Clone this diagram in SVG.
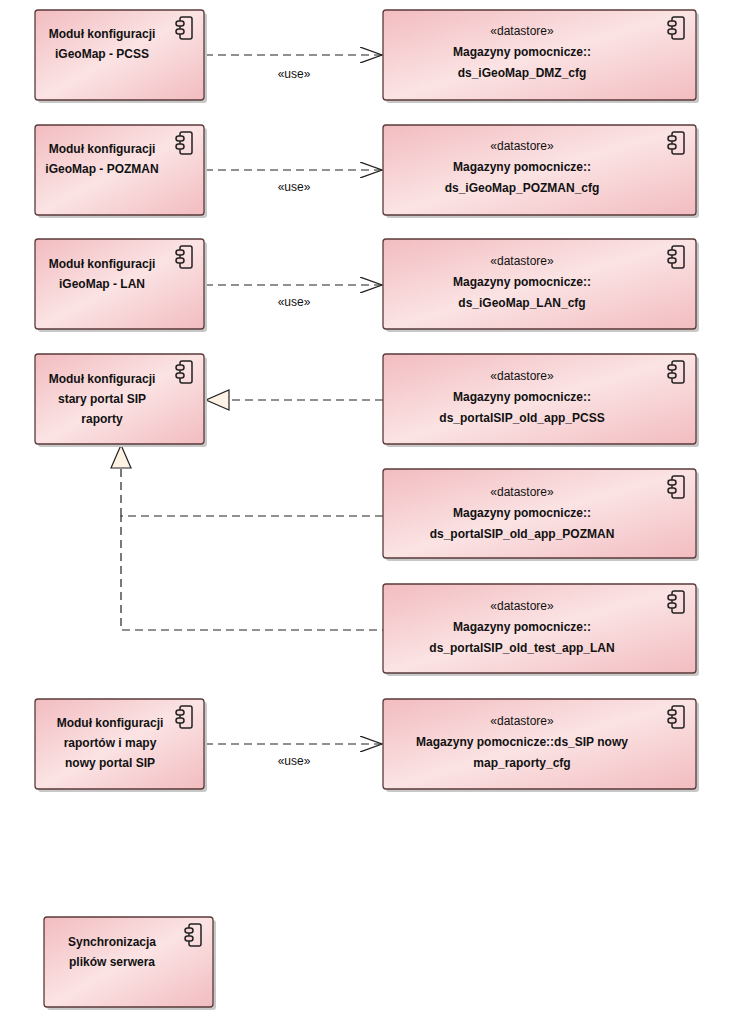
<svg xmlns="http://www.w3.org/2000/svg" width="738" height="1017" viewBox="0 0 738 1017">
<defs>
<linearGradient id="g" x1="0" y1="0" x2="1" y2="1"><stop offset="0" stop-color="#f2bcc0"/><stop offset="0.5" stop-color="#fbe3e4"/><stop offset="1" stop-color="#f2bcc0"/></linearGradient>
<marker id="open" markerWidth="24" markerHeight="16" refX="22" refY="8" orient="auto" markerUnits="userSpaceOnUse"><path d="M0,0 L22,8 L0,16" fill="none" stroke="#222" stroke-width="1.3"/></marker>
<marker id="tri" markerWidth="26" markerHeight="22" refX="24" refY="11" orient="auto" markerUnits="userSpaceOnUse"><path d="M1,1 L24,11 L1,21 Z" fill="#fdf2e4" stroke="#222" stroke-width="1.2"/></marker>
<g id="ic"><rect x="4" y="0" width="12" height="22" rx="2" fill="none" stroke="#222" stroke-width="1.5"/><rect x="0" y="4" width="8" height="5" rx="2.5" fill="#f8d5d7" stroke="#222" stroke-width="1.5"/><rect x="0" y="12" width="8" height="5" rx="2.5" fill="#f8d5d7" stroke="#222" stroke-width="1.5"/></g>
</defs>
<style>
.n{fill:url(#g);stroke:#5a3a3a;stroke-width:1.3}
.s{fill:#c8c8c8}
text{font-family:"Liberation Sans",Arial,sans-serif;font-size:12px;fill:#111;text-anchor:middle}
.b{font-weight:bold}
.c{fill:none;stroke:#222;stroke-width:1.2;stroke-dasharray:8,5}
</style>
<rect width="738" height="1017" fill="#fff"/>
<g id="connectors">
<path class="c" d="M205,55 H382" marker-end="url(#open)"/><text x="294" y="78">«use»</text>
<path class="c" d="M205,170 H382" marker-end="url(#open)"/><text x="294" y="191">«use»</text>
<path class="c" d="M205,285 H382" marker-end="url(#open)"/><text x="294" y="306">«use»</text>
<path class="c" d="M383,400 H206" marker-end="url(#tri)"/>
<path class="c" d="M383,516 H121 V630 H383"/>
<path class="c" d="M121,516 V445" marker-end="url(#tri)"/>
<path class="c" d="M205,744 H382" marker-end="url(#open)"/><text x="294" y="765">«use»</text>
</g>
<g id="n1"><rect class="s" x="38" y="13" width="169" height="90" rx="3"/><rect class="n" x="35" y="10" width="169" height="90" rx="3"/><use href="#ic" x="176" y="17"/><text class="b" x="102" y="38">Moduł konfiguracji</text><text class="b" x="102" y="58">iGeoMap - PCSS</text></g>
<g id="n2"><rect class="s" x="38" y="128" width="169" height="90" rx="3"/><rect class="n" x="35" y="125" width="169" height="90" rx="3"/><use href="#ic" x="176" y="132"/><text class="b" x="102" y="153">Moduł konfiguracji</text><text class="b" x="102" y="173">iGeoMap - POZMAN</text></g>
<g id="n3"><rect class="s" x="38" y="242" width="169" height="90" rx="3"/><rect class="n" x="35" y="239" width="169" height="90" rx="3"/><use href="#ic" x="176" y="246"/><text class="b" x="102" y="268">Moduł konfiguracji</text><text class="b" x="102" y="288">iGeoMap - LAN</text></g>
<g id="n4"><rect class="s" x="38" y="357" width="169" height="90" rx="3"/><rect class="n" x="35" y="354" width="169" height="90" rx="3"/><use href="#ic" x="176" y="361"/><text class="b" x="102" y="383">Moduł konfiguracji</text><text class="b" x="102" y="403">stary portal SIP</text><text class="b" x="102" y="423">raporty</text></g>
<g id="n5"><rect class="s" x="38" y="702" width="169" height="90" rx="3"/><rect class="n" x="35" y="699" width="169" height="90" rx="3"/><use href="#ic" x="176" y="706"/><text class="b" x="110" y="727">Moduł konfiguracji</text><text class="b" x="110" y="747">raportów i  mapy</text><text class="b" x="110" y="767">nowy portal SIP</text></g>
<g id="n6"><rect class="s" x="47" y="920" width="169" height="90" rx="3"/><rect class="n" x="44" y="917" width="169" height="90" rx="3"/><use href="#ic" x="185" y="924"/><text class="b" x="112" y="946">Synchronizacja</text><text class="b" x="112" y="966">plików serwera</text></g>
<g id="d1"><rect class="s" x="386" y="13" width="313" height="90" rx="3"/><rect class="n" x="383" y="10" width="313" height="90" rx="3"/><use href="#ic" x="668" y="17"/><text x="522" y="35">«datastore»</text><text class="b" x="522" y="56">Magazyny pomocnicze::</text><text class="b" x="522" y="77">ds_iGeoMap_DMZ_cfg</text></g>
<g id="d2"><rect class="s" x="386" y="128" width="313" height="90" rx="3"/><rect class="n" x="383" y="125" width="313" height="90" rx="3"/><use href="#ic" x="668" y="132"/><text x="522" y="150">«datastore»</text><text class="b" x="522" y="171">Magazyny pomocnicze::</text><text class="b" x="522" y="192">ds_iGeoMap_POZMAN_cfg</text></g>
<g id="d3"><rect class="s" x="386" y="242" width="313" height="90" rx="3"/><rect class="n" x="383" y="239" width="313" height="90" rx="3"/><use href="#ic" x="668" y="246"/><text x="522" y="265">«datastore»</text><text class="b" x="522" y="286">Magazyny pomocnicze::</text><text class="b" x="522" y="307">ds_iGeoMap_LAN_cfg</text></g>
<g id="d4"><rect class="s" x="386" y="357" width="313" height="90" rx="3"/><rect class="n" x="383" y="354" width="313" height="90" rx="3"/><use href="#ic" x="668" y="361"/><text x="522" y="380">«datastore»</text><text class="b" x="522" y="401">Magazyny pomocnicze::</text><text class="b" x="522" y="422">ds_portalSIP_old_app_PCSS</text></g>
<g id="d5"><rect class="s" x="386" y="472" width="313" height="89" rx="3"/><rect class="n" x="383" y="469" width="313" height="89" rx="3"/><use href="#ic" x="668" y="476"/><text x="522" y="496">«datastore»</text><text class="b" x="522" y="517">Magazyny pomocnicze::</text><text class="b" x="522" y="538">ds_portalSIP_old_app_POZMAN</text></g>
<g id="d6"><rect class="s" x="386" y="587" width="313" height="89" rx="3"/><rect class="n" x="383" y="584" width="313" height="89" rx="3"/><use href="#ic" x="668" y="591"/><text x="522" y="610">«datastore»</text><text class="b" x="522" y="631">Magazyny pomocnicze::</text><text class="b" x="522" y="652">ds_portalSIP_old_test_app_LAN</text></g>
<g id="d7"><rect class="s" x="386" y="702" width="313" height="90" rx="3"/><rect class="n" x="383" y="699" width="313" height="90" rx="3"/><use href="#ic" x="668" y="706"/><text x="522" y="725">«datastore»</text><text class="b" x="522" y="746">Magazyny pomocnicze::ds_SIP nowy</text><text class="b" x="522" y="767">map_raporty_cfg</text></g>
</svg>
